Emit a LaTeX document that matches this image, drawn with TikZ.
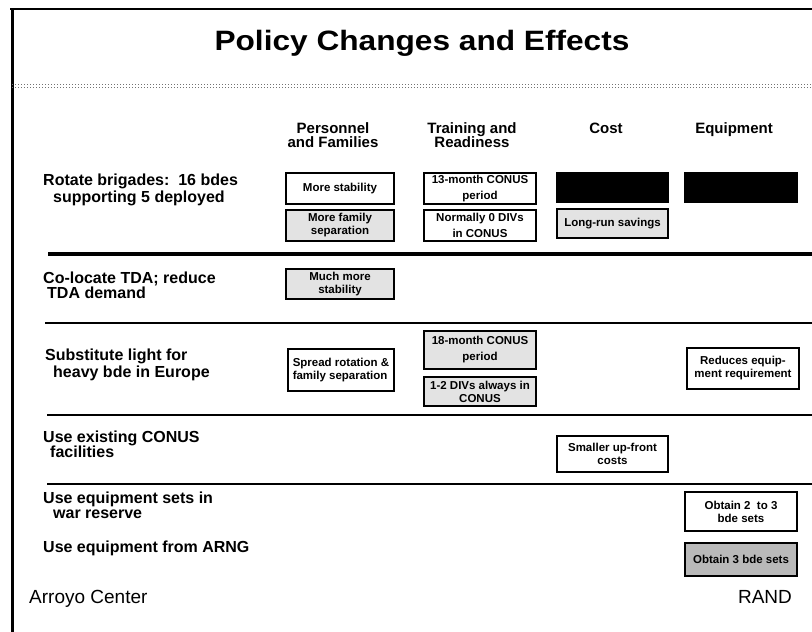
\documentclass[tikz,border=0pt]{standalone}
\usepackage{fontspec}
\usepackage{graphicx}
\setmainfont{Liberation Sans}
\newcommand\cellbox[7]{\node[#2, minimum width={(#5-#3-2)*1pt}, minimum height={(#6-#4-2)*1pt}] (#1) at ({(#3+#5)/2},{(#4+#6)/2}) {#7};}
\tikzset{
  rowlbl/.style={anchor=base west, inner sep=0, font=\bfseries\fontsize{16}{17}\selectfont},
  hdr/.style={anchor=base, inner sep=0, font=\bfseries\fontsize{15}{15}\selectfont},
  cell/.style={draw, line width=2pt, inner sep=0, outer sep=0, align=center, font=\bfseries\fontsize{11.5}{13}\selectfont},
  widecell/.style={font=\bfseries\fontsize{11.5}{16}\selectfont},
  whitecell/.style={cell, fill=white},
  graycell/.style={cell, fill=gray!22},
  darkcell/.style={cell, fill=gray!55},
  blackcell/.style={fill=black, inner sep=0, outer sep=0},
  rulethin/.style={line width=1.5pt},
  footer/.style={inner sep=0, font=\fontsize{19}{19}\selectfont},
}
\begin{document}
\begin{tikzpicture}[x=1pt,y=-1pt]
\useasboundingbox (0,0) rectangle (812,632);
% frame
\draw[line width=2.5pt] (10,9) -- (812,9);
\draw[line width=3pt] (12,8) -- (12,632);
% dotted double rule under title
\draw[black!55, dotted, line width=1pt] (12,84) -- (812,84);
\draw[black!55, dotted, line width=1pt] (12,87) -- (812,87);
% title
\node[anchor=base, inner sep=0] (title) at (422,50) {\scalebox{1.13}[1]{\bfseries\fontsize{28}{28}\selectfont Policy Changes and Effects}};
% headers
\node[hdr] (hP1) at (333,133) {Personnel};
\node[hdr] (hP2) at (333,147) {and Families};
\node[hdr] (hT1) at (472,133) {Training and};
\node[hdr] (hT2) at (472,147) {Readiness};
\node[hdr] (hC) at (606,133) {Cost};
\node[hdr] (hE) at (734,133) {Equipment};
% row labels
\node[rowlbl] (r1a) at (43,185) {Rotate brigades:~~16 bdes};
\node[rowlbl] (r1b) at (53,202) {supporting 5 deployed};
\node[rowlbl] (r2a) at (43,283) {Co-locate TDA; reduce};
\node[rowlbl] (r2b) at (47,298) {TDA demand};
\node[rowlbl] (r3a) at (45,360) {Substitute light for};
\node[rowlbl] (r3b) at (53,377) {heavy bde in Europe};
\node[rowlbl] (r4a) at (43,442) {Use existing CONUS};
\node[rowlbl] (r4b) at (50,457) {facilities};
\node[rowlbl] (r5a) at (43,503) {Use equipment sets in};
\node[rowlbl] (r5b) at (53,518) {war reserve};
\node[rowlbl] (r6) at (43,552) {Use equipment from ARNG};
% row rules
\draw[line width=4pt] (48,254) -- (812,254);
\draw[rulethin] (45,323) -- (812,323);
\draw[rulethin] (47,415) -- (812,415);
\draw[line width=2pt] (47,484) -- (812,484);
% Personnel and Families
\cellbox{b11}{whitecell}{285}{172}{395}{205}{More stability}
\cellbox{b12}{graycell}{285}{209}{395}{242}{More family\\separation}
\cellbox{b21}{graycell}{285}{268}{395}{300}{Much more\\stability}
\cellbox{b31}{whitecell,align=left}{287}{348}{395}{392}{Spread rotation \&\\family separation}
% Training and Readiness
\cellbox{t11}{whitecell,widecell}{423}{172}{537}{205}{13-month CONUS\\period}
\cellbox{t12}{whitecell,widecell}{423}{209}{537}{242}{Normally 0 DIVs\\in CONUS}
\cellbox{t31}{graycell,widecell}{423}{330}{537}{370}{18-month CONUS\\period}
\cellbox{t32}{graycell}{423}{376}{537}{407}{1-2 DIVs always in\\CONUS}
% Cost
\node[blackcell, minimum width=113pt, minimum height=31pt] (c11) at (612.5,187.5) {};
\cellbox{c12}{graycell}{556}{208}{669}{239}{Long-run savings}
\cellbox{c41}{whitecell}{556}{435}{669}{473}{Smaller up-front\\costs}
% Equipment
\node[blackcell, minimum width=114pt, minimum height=31pt] (e11) at (741,187.5) {};
\cellbox{e31}{whitecell}{686}{347}{800}{390}{Reduces equip-\\ment requirement}
\cellbox{e51}{whitecell}{684}{491}{798}{532}{Obtain 2~~to 3\\bde sets}
\cellbox{e61}{darkcell}{684}{542}{798}{577}{Obtain 3 bde sets}
% footer
\node[footer, anchor=base west] (arroyo) at (29,603) {Arroyo Center};
\node[footer, anchor=base] (rand) at (765,603) {RAND};
\end{tikzpicture}
\end{document}
